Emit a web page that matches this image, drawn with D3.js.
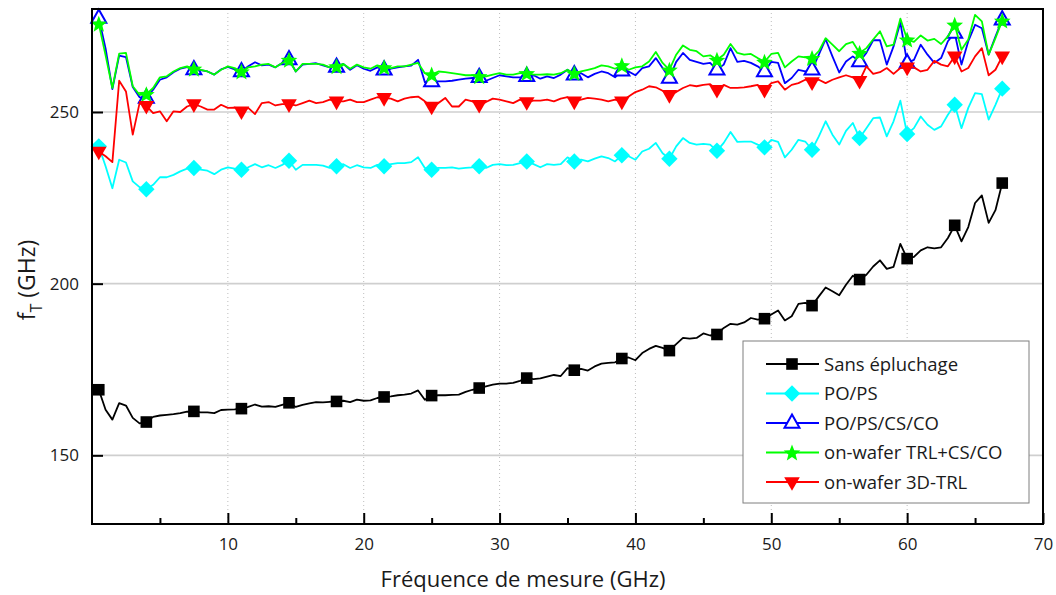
<!DOCTYPE html>
<html>
<head>
<meta charset="utf-8">
<script src="https://cdn.jsdelivr.net/npm/d3@7"></script>
<style>
  html, body { margin: 0; padding: 0; background: #ffffff; }
  svg { display: block; font-family: "Open Sans", "Noto Sans", sans-serif; }
</style>
</head>
<body>
<svg id="chart" width="1056" height="595"></svg>
<script>
// ---------------- DATA ----------------
const freq = [0.5,1,1.5,2,2.5,3,3.5,4,4.5,5,5.5,6,6.5,7,7.5,8,8.5,9,9.5,10,
  10.5,11,11.5,12,12.5,13,13.5,14,14.5,15,15.5,16,16.5,17,17.5,18,18.5,19,19.5,20,
  20.5,21,21.5,22,22.5,23,23.5,24,24.5,25,25.5,26,26.5,27,27.5,28,28.5,29,29.5,30,
  30.5,31,31.5,32,32.5,33,33.5,34,34.5,35,35.5,36,36.5,37,37.5,38,38.5,39,39.5,40,
  40.5,41,41.5,42,42.5,43,43.5,44,44.5,45,45.5,46,46.5,47,47.5,48,48.5,49,49.5,50,
  50.5,51,51.5,52,52.5,53,53.5,54,54.5,55,55.5,56,56.5,57,57.5,58,58.5,59,59.5,60,
  60.5,61,61.5,62,62.5,63,63.5,64,64.5,65,65.5,66,66.5,67];

const sansEpluchage = [169.1,163.3,160.4,165.2,164.5,160.9,159.3,159.7,161.2,161.6,161.8,162.0,162.3,162.7,162.8,162.5,162.5,162.3,163.2,163.3,
  163.4,163.6,164.1,164.8,164.2,164.3,164.1,164.7,165.3,164.1,164.7,165.1,165.5,165.4,165.6,165.7,165.9,165.5,166.2,165.9,
  166.0,166.7,167.0,167.2,167.5,167.7,168.0,168.9,166.2,167.4,167.5,167.5,167.6,167.7,168.5,169.1,169.6,170.1,170.6,170.9,
  170.9,171.1,171.7,172.5,172.2,172.4,172.9,173.4,173.1,175.4,174.8,175.2,174.7,175.9,176.7,176.9,177.1,178.2,178.5,177.7,
  179.8,181.0,181.9,181.3,180.5,182.4,184.2,184.0,184.2,185.5,184.9,185.2,187.1,188.3,188.1,188.7,190.0,189.5,189.8,191.0,
  192.2,189.3,190.5,194.1,194.4,193.6,196.3,198.9,197.8,196.6,199.7,202.3,201.2,202.6,205.0,206.8,204.3,204.9,211.6,207.3,
  207.8,209.7,210.6,210.3,210.6,213.3,217.0,212.3,216.5,223.5,225.7,217.7,221.4,229.3];

const poPs = [240.0,234.2,227.8,236.1,235.3,229.8,228.1,227.5,228.8,231.0,231.0,231.7,232.7,233.5,233.7,233.2,232.9,231.9,233.2,233.9,
  233.5,233.2,233.9,234.8,233.9,234.5,233.7,234.6,235.8,233.2,234.6,234.6,234.6,234.4,233.7,234.2,234.8,233.7,234.5,233.9,
  233.7,234.6,234.2,234.8,235.1,235.1,235.4,236.8,233.7,233.2,233.7,233.7,233.9,233.5,233.7,233.9,234.2,233.7,234.6,234.8,
  234.5,234.6,235.1,235.6,234.8,233.9,234.8,234.6,234.8,236.8,235.6,236.1,235.6,236.4,237.1,236.6,235.6,237.4,237.1,236.1,
  238.5,239.3,241.0,238.0,236.4,240.0,242.4,241.0,240.5,240.7,240.5,238.7,241.0,244.2,241.3,241.4,241.4,240.5,239.7,241.9,
  241.3,236.8,239.0,241.9,241.4,239.0,242.9,247.3,243.4,240.5,244.5,246.8,242.4,245.3,248.2,248.4,242.9,247.3,253.3,243.6,
  245.3,248.7,246.3,244.8,245.8,249.2,252.1,245.3,251.2,255.5,255.2,247.8,252.1,256.8];

const poPsCsCo = [277.4,268.5,256.7,266.4,266.0,257.3,254.3,254.1,256.5,259.4,260.1,261.6,262.6,263.1,262.4,262.2,261.8,260.9,262.4,263.1,
  262.4,261.8,263.3,264.5,263.6,263.8,263.0,264.3,265.3,261.8,263.8,264.0,264.2,263.6,263.0,263.1,264.0,262.3,263.6,262.6,
  262.0,263.0,262.3,262.6,263.0,263.3,263.5,265.2,258.7,258.9,258.9,258.9,259.1,259.4,259.7,259.9,260.1,259.1,259.9,260.7,
  260.4,260.1,260.1,260.4,260.7,259.7,260.4,259.9,260.9,262.3,260.9,261.3,260.1,261.1,261.8,261.3,260.1,262.0,261.8,260.7,
  262.8,263.3,265.7,262.8,259.9,264.6,267.2,265.2,264.6,264.0,264.3,262.3,263.8,268.6,264.6,264.9,264.3,263.3,261.8,264.6,
  264.3,258.4,259.9,262.3,261.8,262.3,266.7,271.2,266.2,261.5,264.7,266.2,264.7,267.2,270.9,270.9,263.8,269.1,276.1,264.3,
  265.2,269.6,266.7,264.3,265.7,270.6,273.0,263.8,270.6,275.4,274.4,266.7,272.0,276.9];

const trlCsCo = [275.7,266.5,257.0,267.0,267.2,257.5,255.0,255.2,257.0,260.1,260.4,261.8,262.8,263.3,262.6,262.3,261.8,260.9,262.3,263.3,
  262.8,261.8,263.0,263.3,263.8,264.0,263.0,264.3,265.2,261.8,264.0,264.0,264.0,263.8,263.0,263.3,264.0,262.6,263.8,263.0,
  262.6,263.6,263.0,262.8,263.3,263.3,263.8,264.3,261.3,260.9,261.8,261.6,261.3,261.0,260.7,260.7,260.4,260.4,260.9,261.3,
  260.9,260.9,261.3,261.3,260.9,260.9,261.0,260.9,261.3,262.3,261.3,261.8,262.3,262.8,263.6,263.3,262.6,263.6,262.3,263.0,
  263.3,264.7,267.5,264.3,262.3,266.7,269.4,268.1,267.7,266.2,266.5,265.2,266.7,269.8,267.2,266.7,266.9,265.7,264.6,266.9,
  267.2,263.0,264.7,266.2,265.9,265.7,267.7,271.5,269.6,267.7,269.8,270.4,267.2,268.6,271.1,273.5,269.1,269.6,277.2,271.1,
  270.4,272.3,270.8,271.3,269.8,272.0,275.4,268.1,271.1,278.3,276.4,266.7,271.5,276.6];

const trl3D = [238.5,237.1,235.4,259.1,256.0,243.4,252.6,251.8,249.7,250.2,247.3,250.2,250.0,251.6,252.3,251.6,250.7,250.7,252.1,251.2,
  251.3,250.2,251.2,249.4,252.6,252.9,251.9,252.3,252.3,251.9,252.6,253.3,252.6,252.9,253.6,253.1,253.1,253.6,252.9,252.9,
  253.6,254.3,254.1,253.9,253.1,253.9,254.3,254.5,253.1,251.6,252.6,254.1,251.6,251.6,253.6,253.1,252.1,252.9,253.9,253.6,
  253.1,252.6,253.6,252.9,253.3,253.3,253.6,253.1,253.9,254.3,253.1,253.6,254.1,253.9,253.6,253.1,253.6,253.1,254.5,255.8,
  256.5,257.5,257.2,256.2,255.0,255.8,257.0,257.8,257.5,257.9,258.1,256.5,257.9,257.0,257.0,257.2,257.5,257.9,256.5,258.4,
  258.9,256.5,257.9,258.4,259.4,258.7,259.4,258.4,259.4,260.1,260.7,260.1,259.1,263.3,261.1,261.6,262.8,261.1,262.8,263.0,
  263.0,261.8,262.3,264.9,263.8,263.3,266.2,261.8,262.8,266.2,268.6,260.7,262.3,266.2];

const seriesNames = ["Sans épluchage", "PO/PS", "PO/PS/CS/CO", "on-wafer TRL+CS/CO", "on-wafer 3D-TRL"];
const xTicks = [10, 20, 30, 40, 50, 60, 70];
const xMinorTicks = [5, 15, 25, 35, 45, 55, 65];
const yTicks = [150, 200, 250];
const markerStep = 3.5;   // a symbol every 3.5 GHz, starting at 0.5 GHz

// ---------------- DRAWING ----------------
(function () {
const series = [
  { name: seriesNames[0], values: sansEpluchage, color: "#000000", symbol: "square" },
  { name: seriesNames[1], values: poPs,          color: "#00FFFF", symbol: "diamond" },
  { name: seriesNames[2], values: poPsCsCo,      color: "#0000FF", symbol: "triangleOpen" },
  { name: seriesNames[3], values: trlCsCo,       color: "#00FF00", symbol: "star" },
  { name: seriesNames[4], values: trl3D,         color: "#FF0000", symbol: "triangleDown" }
];

const svg = d3.select("#chart");
const pL = 92, pR = 1043, pT = 9, pB = 524;
const x = d3.scaleLinear().domain([0, 70]).range([pL, pR]);
const y = d3.scaleLinear().domain([130, 280]).range([pB, pT]);

// grid
svg.append("g").selectAll("line").data(yTicks).join("line")
  .attr("x1", pL).attr("x2", pR)
  .attr("y1", d => y(d)).attr("y2", d => y(d))
  .attr("stroke", "#cfcfcf").attr("stroke-width", 1.6);
svg.append("g").selectAll("line").data(xTicks.filter(d => d < 70)).join("line")
  .attr("x1", d => x(d)).attr("x2", d => x(d))
  .attr("y1", pT).attr("y2", pB)
  .attr("stroke", "#bdbdbd").attr("stroke-width", 1).attr("stroke-dasharray", "1,3");

// symbol paths
function symbolPath(type) {
  const p = d3.path();
  if (type === "square") {
    const s = 5.8; p.rect(-s, -s, 2 * s, 2 * s);
  } else if (type === "diamond") {
    const r = 8.2; p.moveTo(0, -r); p.lineTo(r, 0); p.lineTo(0, r); p.lineTo(-r, 0); p.closePath();
  } else if (type === "triangleOpen") {
    p.moveTo(0, -8.5); p.lineTo(7.5, 4.8); p.lineTo(-7.5, 4.8); p.closePath();
  } else if (type === "triangleDown") {
    p.moveTo(-7.8, -4.8); p.lineTo(7.8, -4.8); p.lineTo(0, 8.8); p.closePath();
  } else if (type === "star") {
    const ro = 8.8, ri = 3.8;
    for (let i = 0; i < 10; i++) {
      const r = i % 2 === 0 ? ro : ri;
      const a = -Math.PI / 2 + i * Math.PI / 5;
      const px = r * Math.cos(a), py = r * Math.sin(a) + 0.8;
      if (i === 0) p.moveTo(px, py); else p.lineTo(px, py);
    }
    p.closePath();
  }
  return p.toString();
}
function styleSymbol(sel, s) {
  if (s.symbol === "triangleOpen") {
    sel.attr("fill", "#ffffff").attr("stroke", s.color).attr("stroke-width", 2);
  } else {
    sel.attr("fill", s.color).attr("stroke", "none");
  }
}

const line = d3.line().x(d => x(d[0])).y(d => y(d[1]));

series.forEach(s => {
  const pts = freq.map((f, i) => [f, s.values[i]]);
  const g = svg.append("g");
  g.append("path").datum(pts).attr("d", line)
    .attr("fill", "none").attr("stroke", s.color).attr("stroke-width", 1.8)
    .attr("stroke-linejoin", "round");
  const marks = pts.filter(d => Math.abs(((d[0] - 0.5) / markerStep) - Math.round((d[0] - 0.5) / markerStep)) < 1e-6);
  g.selectAll("path.m").data(marks).join("path").attr("class", "m")
    .attr("d", symbolPath(s.symbol))
    .attr("transform", d => `translate(${x(d[0])},${y(d[1])})`)
    .call(sel => styleSymbol(sel, s));
});

// axes
const xAxis = svg.append("g").attr("transform", `translate(0,${pB})`)
  .call(d3.axisBottom(x).tickValues(xTicks).tickSize(-11).tickPadding(14).tickFormat(d3.format("d")));
const xMinor = svg.append("g").attr("transform", `translate(0,${pB})`)
  .call(d3.axisBottom(x).tickValues(xMinorTicks).tickSize(-6).tickFormat(""));
const yAxis = svg.append("g").attr("transform", `translate(${pL},0)`)
  .call(d3.axisLeft(y).tickValues(yTicks).tickSize(-11).tickPadding(13).tickFormat(d3.format("d")));
[xAxis, xMinor, yAxis].forEach(a => {
  a.select(".domain").remove();
  a.selectAll(".tick line").attr("stroke", "#000").attr("stroke-width", 2);
  a.selectAll(".tick text").attr("fill", "#1a1a1a").style("font-size", "17px")
    .style("font-family", "'Open Sans', sans-serif");
});

// frame
svg.append("rect").attr("x", pL).attr("y", pT)
  .attr("width", pR - pL).attr("height", pB - pT)
  .attr("fill", "none").attr("stroke", "#000").attr("stroke-width", 2);

// axis titles
svg.append("text").attr("x", 523).attr("y", 587).attr("text-anchor", "middle")
  .attr("fill", "#1a1a1a").style("font-size", "22px").text("Fréquence de mesure (GHz)");
const yt = svg.append("text").attr("transform", "translate(35,280) rotate(-90)")
  .attr("text-anchor", "middle").attr("fill", "#1a1a1a").style("font-size", "23px");
yt.append("tspan").text("f");
yt.append("tspan").attr("dy", 7).style("font-size", "16px").text("T");
yt.append("tspan").attr("dy", -7).text(" (GHz)");

// legend
const lg = svg.append("g");
lg.append("rect").attr("x", 743).attr("y", 341).attr("width", 286).attr("height", 162)
  .attr("fill", "#ffffff").attr("stroke", "#7f7f7f").attr("stroke-width", 1);
series.forEach((s, i) => {
  const cy = 364 + i * 29.5;
  lg.append("line").attr("x1", 766).attr("x2", 819).attr("y1", cy).attr("y2", cy)
    .attr("stroke", s.color).attr("stroke-width", 1.8);
  lg.append("path").attr("d", symbolPath(s.symbol))
    .attr("transform", `translate(792,${cy})`).call(sel => styleSymbol(sel, s));
  lg.append("text").attr("x", 824).attr("y", cy + 6.5).attr("fill", "#1a1a1a")
    .style("font-size", "18.5px").text(s.name);
});
})();
</script>
</body>
</html>
